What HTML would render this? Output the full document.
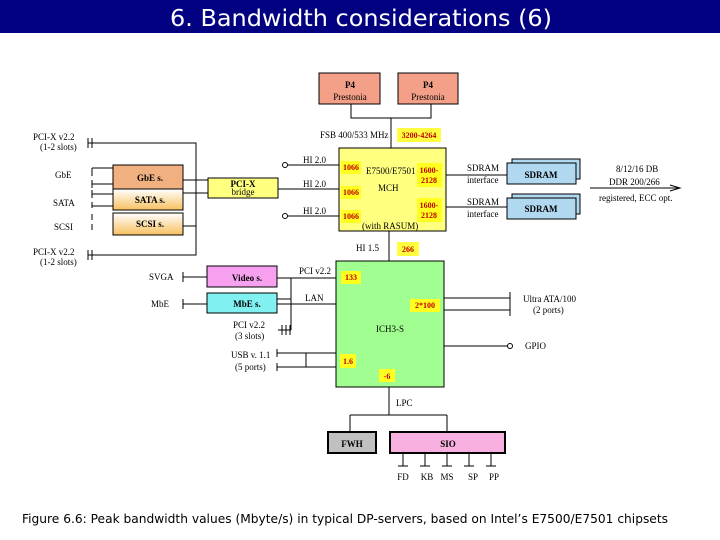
<!DOCTYPE html>
<html><head><meta charset="utf-8"><style>
body{margin:0;width:720px;height:540px;background:#fff;overflow:hidden}
svg{display:block}
.s{font-family:"Liberation Serif",serif;font-size:9px;fill:#000}
.y{font-family:"Liberation Serif",serif;font-size:8px;fill:#c00000;font-weight:bold}
</style></head><body>
<svg width="720" height="540" viewBox="0 0 720 540">
<defs>
<linearGradient id="gw" x1="0" y1="0" x2="0" y2="1"><stop offset="0" stop-color="#ffffff"/><stop offset="1" stop-color="#f8c060"/></linearGradient>
</defs>
<rect x="0" y="0" width="720" height="33" fill="#000080"/>
<text x="361" y="26" text-anchor="middle" font-family="DejaVu Sans,sans-serif" font-size="23.5" fill="#fff" textLength="382" lengthAdjust="spacingAndGlyphs">6. Bandwidth considerations (6)</text>
<g stroke="#000" fill="none" stroke-width="1">
<path d="M351 104V118H431V104M391 118V148"/>
<path d="M88 143H196V255H88M183 180H208M183 193H208M183 226H196M278 189H339M288 165H339M288 216H339"/>
<circle cx="285" cy="165" r="2.5" fill="#fff"/><circle cx="285" cy="216" r="2.5" fill="#fff"/>
<path d="M88 138V148M92 138V148M88 250V260M92 250V260"/>
<path d="M92 168V176M92 180V188M92 190V198M92 202V208M92 214V220M92 224V230"/>
<path d="M92 168H113M92 184H113M92 194H113M92 206H113" />
<path d="M446 175H508M446 207H508M590 188H678M670 185L680 188L670 191"/>
<path d="M389 231V261M389 387V415M350 415H447M350 415V432M447 415V432"/>
<path d="M183 277H207M183 272V282M183 304H207M183 299V309"/>
<path d="M277 278H336M277 299H291M277 304H336M291 278V330M278 330H291M282 325V335M286 325V335M290 325V335"/>
<path d="M277 353H336M277 367H336M306 353V367M277 349V357M277 363V371"/>
<path d="M444 298H510M444 310H510M510 292V304M510 304V316M444 346H508"/>
<circle cx="510" cy="346" r="2.5" fill="#fff"/>
<path d="M403 453V466M398 466H408M425 453V466M420 466H430M447 453V466M442 466H452M469 453V466M464 466H474M491 453V466M486 466H496"/>
</g>
<rect x="319" y="73" width="61" height="31" fill="#f4a088" stroke="#000"/>
<rect x="398" y="73" width="60" height="31" fill="#f4a088" stroke="#000"/>
<text class="s" x="350" y="88" text-anchor="middle" font-weight="bold" font-size="10">P4</text>
<text class="s" x="350" y="100" text-anchor="middle" font-size="10">Prestonia</text>
<text class="s" x="428" y="88" text-anchor="middle" font-weight="bold" font-size="10">P4</text>
<text class="s" x="428" y="100" text-anchor="middle" font-size="10">Prestonia</text>
<text class="s" x="320" y="138" font-size="8">FSB 400/533 MHz</text>
<rect x="397" y="128" width="44" height="14" fill="#ffff40"/><text class="y" x="419" y="138" text-anchor="middle">3200-4264</text>
<rect x="339" y="148" width="107" height="83" fill="#ffff80" stroke="#000"/>
<rect x="341" y="161" width="20" height="13" fill="#ffff20"/><text class="y" x="351" y="170" text-anchor="middle">1066</text>
<rect x="341" y="186" width="20" height="13" fill="#ffff20"/><text class="y" x="351" y="195" text-anchor="middle">1066</text>
<rect x="341" y="210" width="20" height="13" fill="#ffff20"/><text class="y" x="351" y="219" text-anchor="middle">1066</text>
<rect x="417" y="163" width="25" height="24" fill="#ffff20"/><text class="y" x="429" y="173" text-anchor="middle">1600-</text><text class="y" x="429" y="183" text-anchor="middle">2128</text>
<rect x="417" y="198" width="25" height="24" fill="#ffff20"/><text class="y" x="429" y="208" text-anchor="middle">1600-</text><text class="y" x="429" y="218" text-anchor="middle">2128</text>
<text class="s" x="366" y="174">E7500/E7501</text>
<text class="s" x="378" y="191">MCH</text>
<text class="s" x="362" y="229">(with RASUM)</text>
<text class="s" x="303" y="163">HI 2.0</text><text class="s" x="303" y="187">HI 2.0</text><text class="s" x="303" y="214">HI 2.0</text>
<rect x="208" y="178" width="70" height="20" fill="#ffff80" stroke="#000"/>
<text class="s" x="243" y="187" text-anchor="middle" font-weight="bold">PCI-X</text><text class="s" x="243" y="195" text-anchor="middle">bridge</text>
<rect x="113" y="165" width="70" height="30" fill="#f0b080" stroke="#000"/>
<text class="s" x="150" y="181" text-anchor="middle" font-weight="bold" font-size="8">GbE s.</text>
<rect x="113" y="189" width="70" height="21" fill="url(#gw)" stroke="#000"/>
<text class="s" x="150" y="203" text-anchor="middle" font-weight="bold" font-size="8">SATA s.</text>
<rect x="113" y="213" width="70" height="22" fill="url(#gw)" stroke="#000"/>
<text class="s" x="150" y="227" text-anchor="middle" font-weight="bold" font-size="8">SCSI s.</text>
<text class="s" x="33" y="140" font-size="8">PCI-X v2.2</text><text class="s" x="40" y="150" font-size="8">(1-2 slots)</text>
<text class="s" x="33" y="255" font-size="8">PCI-X v2.2</text><text class="s" x="40" y="265" font-size="8">(1-2 slots)</text>
<text class="s" x="55" y="178" font-size="8">GbE</text><text class="s" x="53" y="206" font-size="8">SATA</text><text class="s" x="54" y="230" font-size="8">SCSI</text>
<text class="s" x="467" y="171" font-size="8">SDRAM</text><text class="s" x="467" y="183" font-size="7">interface</text>
<text class="s" x="467" y="205" font-size="8">SDRAM</text><text class="s" x="467" y="217" font-size="7">interface</text>
<rect x="512" y="159" width="68" height="20" fill="#b0d8f0" stroke="#000"/><rect x="507" y="163" width="69" height="21" fill="#b0d8f0" stroke="#000"/>
<text class="s" x="541" y="178" text-anchor="middle" font-weight="bold" font-size="8">SDRAM</text>
<rect x="512" y="194" width="68" height="20" fill="#b0d8f0" stroke="#000"/><rect x="507" y="198" width="69" height="21" fill="#b0d8f0" stroke="#000"/>
<text class="s" x="541" y="212" text-anchor="middle" font-weight="bold" font-size="8">SDRAM</text>
<text class="s" x="616" y="172" font-size="8">8/12/16 DB</text>
<text class="s" x="609" y="185" font-size="8">DDR 200/266</text>
<text class="s" x="599" y="201" font-size="8">registered, ECC opt.</text>
<text class="s" x="356" y="251" font-size="8">HI 1.5</text>
<rect x="397" y="242" width="22" height="14" fill="#ffff40"/><text class="y" x="408" y="252" text-anchor="middle">266</text>
<rect x="336" y="261" width="108" height="126" fill="#a0ff90" stroke="#000"/>
<rect x="341" y="271" width="20" height="13" fill="#ffff20"/><text class="y" x="351" y="280" text-anchor="middle">133</text>
<rect x="410" y="299" width="30" height="13" fill="#ffff20"/><text class="y" x="425" y="308" text-anchor="middle">2*100</text>
<rect x="340" y="354" width="16" height="14" fill="#ffff20"/><text class="y" x="348" y="364" text-anchor="middle">1.6</text>
<rect x="379" y="369" width="16" height="13" fill="#ffff20"/><text class="y" x="387" y="379" text-anchor="middle">-6</text>
<text class="s" x="376" y="332" font-size="11">ICH3-S</text>
<rect x="207" y="266" width="70" height="21" fill="#f8a0f0" stroke="#000"/>
<text class="s" x="247" y="281" text-anchor="middle" font-weight="bold" font-size="8">Video s.</text>
<rect x="207" y="293" width="70" height="20" fill="#80f0f0" stroke="#000"/>
<text class="s" x="247" y="307" text-anchor="middle" font-weight="bold" font-size="8">MbE s.</text>
<text class="s" x="149" y="280" font-size="8">SVGA</text><text class="s" x="151" y="307" font-size="8">MbE</text>
<text class="s" x="299" y="274" font-size="8">PCI v2.2</text>
<text class="s" x="305" y="301" font-size="8">LAN</text>
<text class="s" x="233" y="328" font-size="8">PCI v2.2</text><text class="s" x="235" y="339" font-size="8">(3 slots)</text>
<text class="s" x="231" y="358" font-size="8">USB v. 1.1</text><text class="s" x="235" y="370" font-size="8">(5 ports)</text>
<text class="s" x="523" y="302" font-size="8">Ultra ATA/100</text><text class="s" x="533" y="313" font-size="8">(2 ports)</text>
<text class="s" x="525" y="349" font-size="8">GPIO</text>
<text class="s" x="396" y="406" font-size="8">LPC</text>
<rect x="328" y="432" width="48" height="21" fill="#c0c0c0" stroke="#000" stroke-width="2"/>
<text class="s" x="352" y="447" text-anchor="middle" font-weight="bold" font-size="11">FWH</text>
<rect x="390" y="432" width="115" height="21" fill="#f8b0e0" stroke="#000" stroke-width="2"/>
<text class="s" x="448" y="447" text-anchor="middle" font-weight="bold" font-size="11">SIO</text>
<text class="s" x="403" y="480" text-anchor="middle" font-size="8">FD</text><text class="s" x="427" y="480" text-anchor="middle" font-size="8">KB</text><text class="s" x="447" y="480" text-anchor="middle" font-size="8">MS</text><text class="s" x="473" y="480" text-anchor="middle" font-size="8">SP</text><text class="s" x="494" y="480" text-anchor="middle" font-size="8">PP</text>
<text x="22" y="523" font-family="DejaVu Sans,sans-serif" font-size="12" fill="#000" textLength="646" lengthAdjust="spacingAndGlyphs">Figure 6.6: Peak bandwidth values (Mbyte/s) in typical DP-servers, based on Intel’s E7500/E7501 chipsets</text>
</svg>
</body></html>
